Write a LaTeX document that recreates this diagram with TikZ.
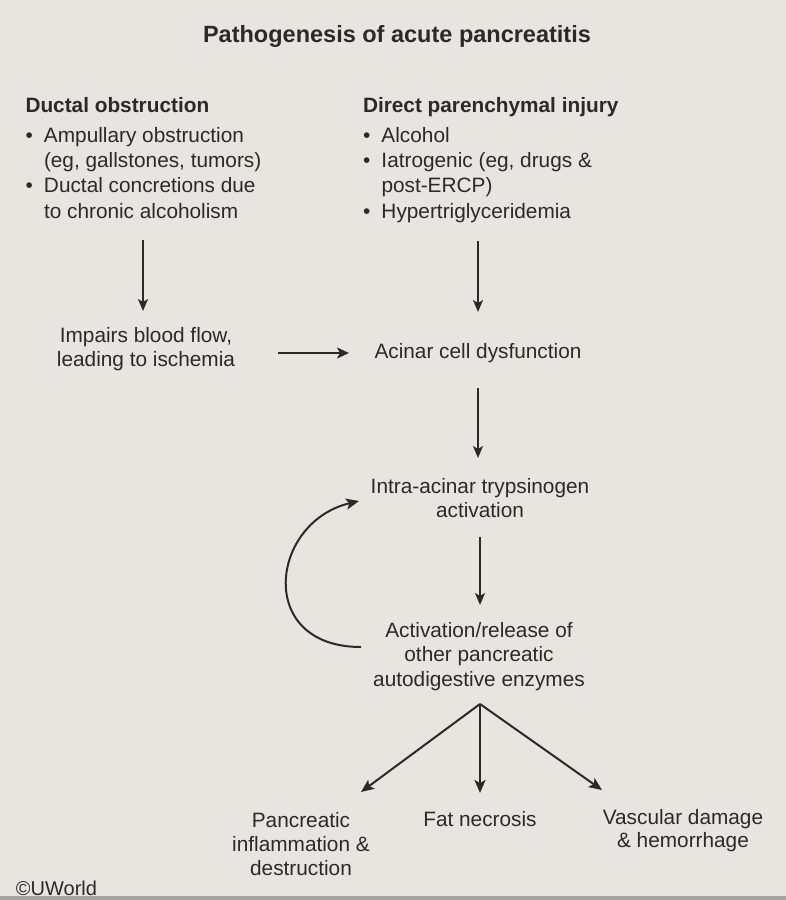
\documentclass[tikz,border=0pt]{standalone}
\usepackage{fontspec}
\setmainfont{Liberation Sans}
\usetikzlibrary{arrows.meta}
\definecolor{bg}{RGB}{231,229,224}
\definecolor{ink}{RGB}{42,42,42}
\definecolor{bezel}{RGB}{165,164,160}
\newcommand{\bul}{\makebox[18.5pt][l]{•}}
\begin{document}
\begin{tikzpicture}[x=1pt,y=-1pt,
  txt/.style={inner sep=0pt, outer sep=0pt, text=ink, font=\fontsize{20.8}{24}\selectfont},
  ctr/.style={txt, align=center, anchor=base},
  lft/.style={txt, align=left, anchor=base west, font=\fontsize{20.8}{25.3}\selectfont},
  arr/.style={draw=ink, line width=1.5pt, -{Stealth[length=12pt,width=10pt,inset=3pt]}},
  harr/.style={draw=ink, line width=2.4pt, -{Stealth[length=12pt,width=11pt,inset=3pt]}},
  barr/.style={draw=ink, line width=2pt, -{Stealth[length=13pt,width=11pt,inset=3pt]}},
]
\fill[bg] (0,0) rectangle (786,900);
\fill[bezel] (0,896) rectangle (786,900);
\useasboundingbox (0,0) rectangle (786,900);

% title
\node[txt, anchor=base, font=\bfseries\fontsize{23.5}{28}\selectfont] (title) at (397,42) {Pathogenesis of acute pancreatitis};

% causes (base anchor = baseline of last line)
\node[lft] (duct) at (25.5,218) {\textbf{Ductal obstruction}\\[4pt]
  \bul Ampullary obstruction\\
  \hspace*{18.5pt}(eg, gallstones, tumors)\\
  \bul Ductal concretions due\\
  \hspace*{18.5pt}to chronic alcoholism};
\node[lft] (direct) at (363,218) {\textbf{Direct parenchymal injury}\\[4pt]
  \bul Alcohol\\
  \bul Iatrogenic (eg, drugs \&\\
  \hspace*{18.5pt}post-ERCP)\\
  \bul Hypertriglyceridemia};

% middle
\node[ctr] (impair) at (146,366) {Impairs blood flow,\\leading to ischemia};
\node[ctr] (acinar) at (478,358) {Acinar cell dysfunction};
\node[ctr] (trypsin) at (480,517) {Intra-acinar trypsinogen\\activation};
\node[ctr, font=\fontsize{20.8}{24.5}\selectfont] (enzymes) at (479,686) {Activation/release of\\other pancreatic\\autodigestive enzymes};

% outcomes
\node[ctr] (pancr) at (301,875) {Pancreatic\\inflammation \&\\destruction};
\node[ctr] (fat) at (480,826) {Fat necrosis};
\node[ctr, font=\fontsize{20.8}{23}\selectfont] (vasc) at (683,847) {Vascular damage\\\& hemorrhage};

\node[txt, anchor=base west, font=\fontsize{20}{24}\selectfont] (uworld) at (16,895) {©UWorld};

% connector end points
\coordinate (a1s) at (143,240);
\coordinate (a1e) at (143,311);
\coordinate (a2s) at (478,241);
\coordinate (a2e) at (478,312);
\coordinate (h1s) at (278,353);
\coordinate (h1e) at (349,353);
\coordinate (a3s) at (478,388);
\coordinate (a3e) at (478,458);
\coordinate (a4s) at (480,537);
\coordinate (a4e) at (480,605);
\coordinate (loopS) at (361,647);
\coordinate (loopE) at (359,501);
\coordinate (fork) at (480,704);
\coordinate (f1) at (361,792);
\coordinate (f2) at (480,793);
\coordinate (f3) at (602,790);

\draw[arr] (a1s) -- (a1e);
\draw[arr] (a2s) -- (a2e);
\draw[harr] (h1s) -- (h1e);
\draw[arr] (a3s) -- (a3e);
\draw[arr] (a4s) -- (a4e);
\draw[barr] (loopS) .. controls (255,647) and (270,522) .. (loopE);
\draw[barr] (fork) -- (f1);
\draw[barr] (fork) -- (f2);
\draw[barr] (fork) -- (f3);
\end{tikzpicture}
\end{document}
